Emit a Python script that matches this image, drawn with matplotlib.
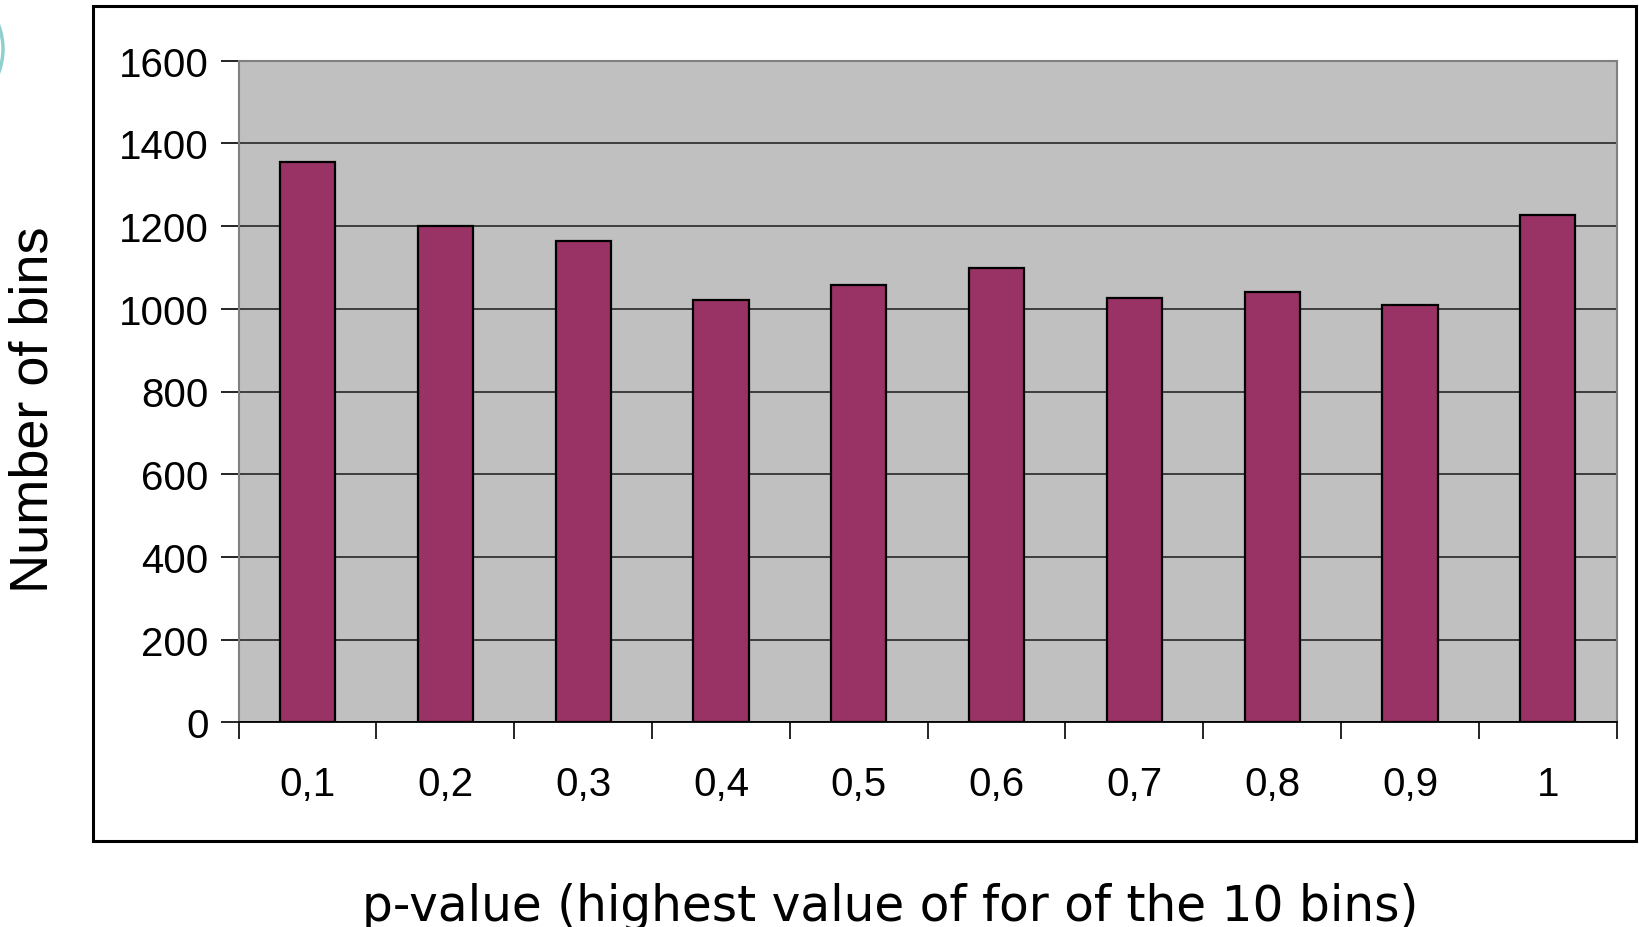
import matplotlib
matplotlib.use("Agg")
import matplotlib.pyplot as plt
from matplotlib.patches import Rectangle, Circle
import numpy as np

# p-value bins (upper edge of each bin) and number of bins falling in each
categories = ["0,1", "0,2", "0,3", "0,4", "0,5", "0,6", "0,7", "0,8", "0,9", "1"]
counts = [1354, 1200, 1164, 1021, 1057, 1098, 1026, 1041, 1010, 1226]
y_ticks = [0, 200, 400, 600, 800, 1000, 1200, 1400, 1600]

W, H = 1640, 928
fig = plt.figure(figsize=(W / 100, H / 100), dpi=100)
fig.patch.set_facecolor("white")

def fx(px):
    return px / W

def fy(py):
    return 1 - py / H

# outer chart frame
fig.patches.append(Rectangle((fx(92.7), fy(841.7)), fx(1636 - 92.7), (841.7 - 7) / H,
                             transform=fig.transFigure, fill=False,
                             edgecolor="black", linewidth=2.2, zorder=0))

# decorative teal arc on the left edge
fig.patches.append(Circle((fx(-203), fy(50)), 206 / W, transform=fig.transFigure,
                          fill=False, edgecolor="#8fcfcf", linewidth=2.5, zorder=0))

ax = fig.add_axes([fx(238.7), fy(723.3), fx(1616.7 - 238.7), (723.3 - 61.7) / H])
ax.set_facecolor("#C0C0C0")

x = np.arange(len(categories))
ax.bar(x, counts, width=0.40, color="#993366", edgecolor="black", linewidth=1.6, zorder=3)

ax.set_xlim(-0.5, len(categories) - 0.5)
ax.set_ylim(0, 1600)

ax.set_yticks(y_ticks)
ax.set_yticklabels([str(v) for v in y_ticks], fontfamily="Liberation Sans", fontsize=29)
ax.yaxis.grid(True, color="#1a1a1a", linewidth=1.1, zorder=1)
ax.set_axisbelow(True)

# category labels centred, tick marks at category boundaries
ax.set_xticks(x)
ax.set_xticklabels(categories, fontfamily="Liberation Sans", fontsize=29)
ax.tick_params(axis="x", which="major", length=0, pad=31)
ax.set_xticks(np.arange(-0.5, len(categories)), minor=True)
ax.tick_params(axis="x", which="minor", length=12, width=1.2, color="black", direction="out")
ax.tick_params(axis="y", length=13, width=1.2, color="black", direction="out", pad=8.5)

for side in ["top", "right", "left"]:
    ax.spines[side].set_color("#808080")
    ax.spines[side].set_linewidth(1.5)
ax.spines["bottom"].set_color("black")
ax.spines["bottom"].set_linewidth(1.3)

fig.text(fx(34), fy(410), "Number of bins", rotation=90, ha="center", va="center",
         fontfamily="Liberation Sans", fontsize=39)

xl = fig.text(fx(890), fy(921), "p-value (highest value of for of the 10 bins)",
              ha="center", va="baseline", fontfamily="DejaVu Sans", fontsize=34)
# size the axis title to its measured span
fig.canvas.draw()
bb = xl.get_window_extent()
xl.set_fontsize(34 * 1058 / bb.width)

fig.savefig("out.png", dpi=100, facecolor="white")
